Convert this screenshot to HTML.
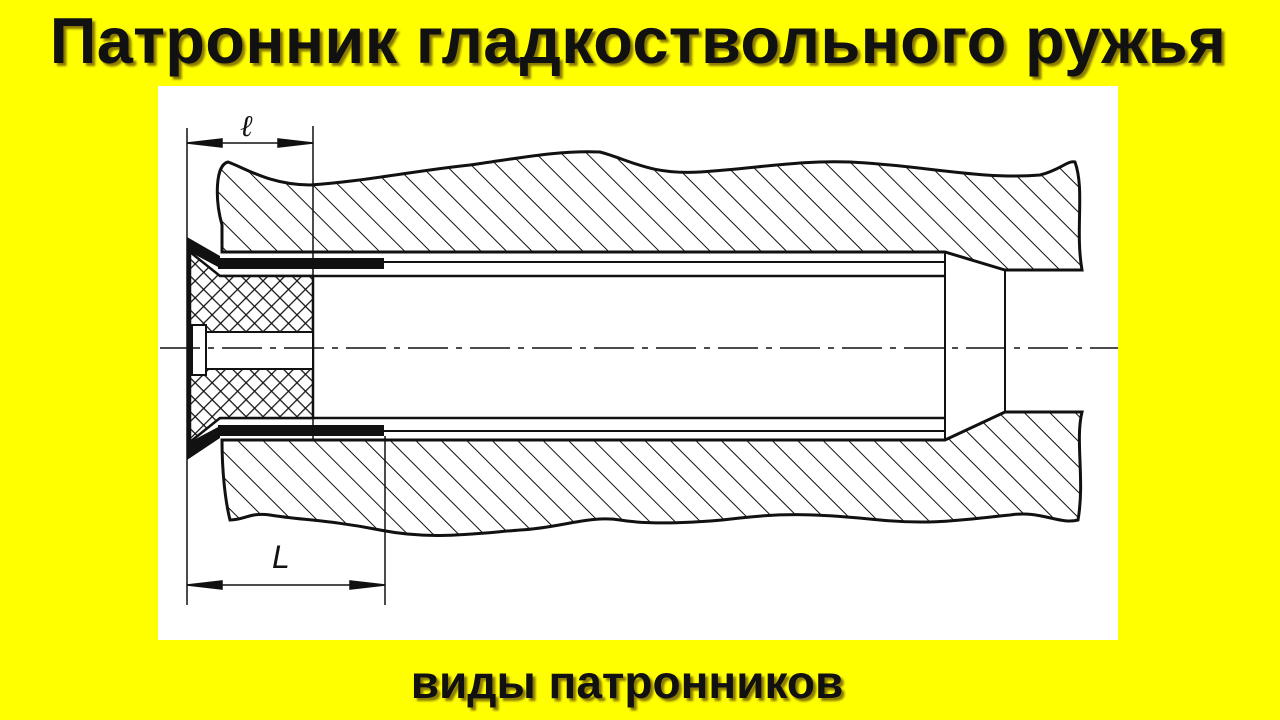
<!DOCTYPE html>
<html><head><meta charset="utf-8"><style>
html,body{margin:0;padding:0;width:1280px;height:720px;background:#ffff00;overflow:hidden}
.t{position:absolute;left:0;width:1280px;text-align:center;font-family:"Liberation Sans",sans-serif;font-weight:bold;color:#111;text-shadow:3px 3px 2px #8a7a00;white-space:nowrap}
</style></head><body>
<div class="t" style="top:3px;left:-2px;font-size:65px;letter-spacing:0.3px">Патронник гладкоствольного ружья</div>
<svg style="position:absolute;left:0;top:0" width="1280" height="720">
<defs>
<pattern id="h" patternUnits="userSpaceOnUse" width="18" height="18" patternTransform="rotate(-45)">
<line x1="0" y1="0" x2="0" y2="18" stroke="#111" stroke-width="2"/></pattern>
<pattern id="x" patternUnits="userSpaceOnUse" width="12" height="12" patternTransform="rotate(45)">
<rect width="12" height="12" fill="#fff"/><line x1="0" y1="0" x2="0" y2="12" stroke="#111" stroke-width="2.5"/><line x1="0" y1="0" x2="12" y2="0" stroke="#111" stroke-width="2.5"/></pattern>
</defs>
<rect x="158" y="86" width="960" height="554" fill="#fff"/>
<path d="M222,252 L222,225 C215,200 215,165 228,162 C245,168 270,185 310,185 C360,182 420,170 470,165 C520,158 560,150 600,152 C630,160 650,175 700,172 C760,168 800,160 850,162 C920,165 980,180 1040,175 C1060,170 1068,160 1075,162 C1085,190 1075,230 1082,270 L1005,270 L945,252 Z" fill="url(#h)" stroke="#111" stroke-width="3"/>
<path d="M222,440 L945,440 L1005,412 L1082,412 C1075,440 1085,480 1078,520 C1060,525 1040,510 1010,515 C960,520 930,525 880,520 C830,515 790,512 740,518 C700,523 650,525 620,520 C590,515 560,528 520,530 C470,534 430,540 380,530 C330,520 300,520 270,515 C250,512 245,520 230,520 C225,500 222,470 222,440 Z" fill="url(#h)" stroke="#111" stroke-width="3"/>
<line x1="945" y1="252" x2="945" y2="440" stroke="#111" stroke-width="2"/>
<line x1="1005" y1="270" x2="1005" y2="412" stroke="#111" stroke-width="2"/>
<line x1="220" y1="262" x2="945" y2="262" stroke="#111" stroke-width="2"/>
<line x1="220" y1="276" x2="945" y2="276" stroke="#111" stroke-width="2.5"/>
<line x1="220" y1="418" x2="945" y2="418" stroke="#111" stroke-width="2.5"/>
<line x1="220" y1="431" x2="945" y2="431" stroke="#111" stroke-width="2"/>
<rect x="218" y="258" width="166" height="11" fill="#111"/>
<rect x="218" y="425" width="166" height="11" fill="#111"/>
<path d="M187,237 L220,256 L220,268 L190,252 L190,442 L220,426 L220,438 L187,460 Z" fill="#111"/>
<path d="M190,252 L220,276 L313,276 L313,418 L220,418 L190,442 Z" fill="url(#x)" stroke="#111" stroke-width="2.5"/>
<rect x="192" y="325" width="14" height="50" fill="#fff" stroke="#111" stroke-width="2"/>
<rect x="206" y="332" width="107" height="37" fill="#fff" stroke="#111" stroke-width="2"/>
<line x1="160" y1="348" x2="1118" y2="348" stroke="#111" stroke-width="1.5" stroke-dasharray="40,8,6,8"/>
<g stroke="#111" stroke-width="1.5" fill="#111">
<line x1="187" y1="128" x2="187" y2="605"/>
<line x1="313" y1="126" x2="313" y2="440"/>
<line x1="385" y1="436" x2="385" y2="605"/>
<line x1="187" y1="143" x2="313" y2="143"/>
<line x1="187" y1="585" x2="385" y2="585"/>
<path d="M187,143 L222,139 L222,147 Z"/><path d="M313,143 L278,139 L278,147 Z"/>
<path d="M187,585 L222,581 L222,589 Z"/><path d="M385,585 L350,581 L350,589 Z"/>
</g>
<text x="240" y="136" font-family="Liberation Serif,serif" font-style="italic" font-size="30" fill="#111">ℓ</text>
<text x="272" y="568" font-family="Liberation Sans,sans-serif" font-style="italic" font-size="32" fill="#111">L</text>
</svg>
<div class="t" style="top:655px;left:-13px;font-size:46px">виды патронников</div>
</body></html>
